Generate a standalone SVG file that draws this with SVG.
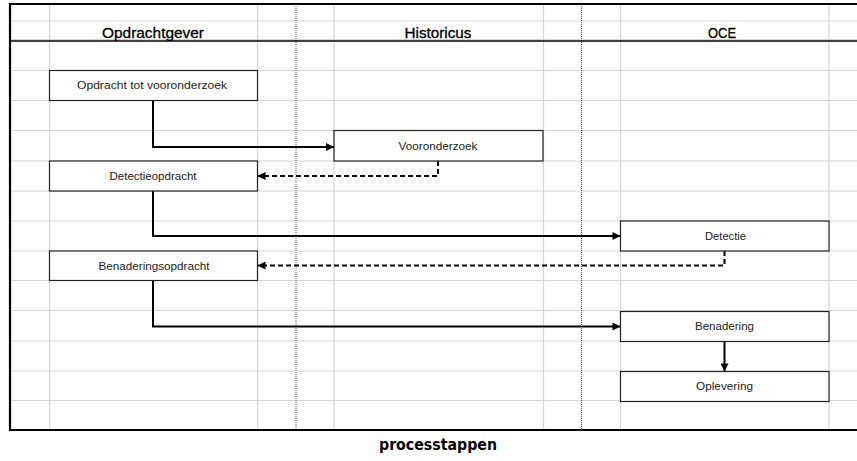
<svg xmlns="http://www.w3.org/2000/svg" width="857" height="461" viewBox="0 0 857 461">
<defs>
<style>
.grid{stroke:#d4d4d4;stroke-width:1.2;fill:none}
.dot{stroke:#555;stroke-width:1;stroke-dasharray:1 1;fill:none}
.frame{stroke:#000;fill:none}
.box rect{fill:#fff;stroke:#222;stroke-width:1.2}
.box text{font-family:"Liberation Sans",Arial,sans-serif;font-size:10.5px;fill:#222;text-anchor:middle}
.hdr{font-family:"Liberation Sans",Arial,sans-serif;font-size:14.5px;fill:#000;text-anchor:middle;stroke:#000;stroke-width:0.3}
.solid{stroke:#000;stroke-width:2;fill:none;marker-end:url(#arr)}
.dash{stroke:#000;stroke-width:2;fill:none;stroke-dasharray:5 3;marker-end:url(#arr)}
.cap{font-family:"DejaVu Sans","Liberation Sans",sans-serif;font-size:15px;font-weight:bold;fill:#000;text-anchor:middle}
</style>
<marker id="arr" viewBox="0 0 10 10" refX="10" refY="5" markerWidth="9" markerHeight="8" markerUnits="userSpaceOnUse" orient="auto">
<path d="M0,0 L10,5 L0,10 z" fill="#000"/>
</marker>
</defs>
<rect x="0" y="0" width="857" height="461" fill="#fff"/>
<g id="grid">
<path class="grid" d="M10 21H857M10 39.5H857M10 70.5H857M10 100.5H857M10 130.5H857M10 161H857M10 191H857M10 221H857M10 251H857M10 280.5H857M10 310.5H857M10 341H857M10 371H857M10 400.5H857"/>
<path class="grid" d="M49.5 4V430M257.5 4V430M334 4V430M543.5 4V430M620.5 4V430M829 4V430"/>
<path class="dot" d="M296 4V430M581.5 4V430"/>
</g>
<g id="frame">
<path class="frame" stroke-width="2.2" d="M857 4H10V430H857"/>
<path class="frame" stroke-width="1.6" d="M10 41H857"/>
</g>
<g id="headers">
<text class="hdr" x="153" y="37.5" textLength="102" lengthAdjust="spacingAndGlyphs">Opdrachtgever</text>
<text class="hdr" x="438" y="37.5" textLength="67" lengthAdjust="spacingAndGlyphs">Historicus</text>
<text class="hdr" x="722" y="37.5" textLength="28" lengthAdjust="spacingAndGlyphs">OCE</text>
</g>
<g id="connectors">
<path class="solid" d="M153 100.5V147H334"/>
<path class="dash" d="M438 161V176H257.5"/>
<path class="solid" d="M153 191V236H620.5"/>
<path class="dash" d="M724.5 251V265.5H257.5"/>
<path class="solid" d="M153 280.5V326.5H620.5"/>
<path class="solid" d="M724.5 341.5V371.5"/>
</g>
<g id="n1" class="box"><rect x="49.5" y="70.5" width="208" height="30"/><text x="152" y="89" textLength="150" lengthAdjust="spacingAndGlyphs">Opdracht tot vooronderzoek</text></g>
<g id="n2" class="box"><rect x="334" y="130.5" width="209" height="30.5"/><text x="438" y="150" textLength="79" lengthAdjust="spacingAndGlyphs">Vooronderzoek</text></g>
<g id="n3" class="box"><rect x="49.5" y="161" width="208" height="30"/><text x="153" y="180" textLength="87" lengthAdjust="spacingAndGlyphs">Detectieopdracht</text></g>
<g id="n4" class="box"><rect x="620.5" y="221" width="208.5" height="30"/><text x="725.5" y="239.5" textLength="41" lengthAdjust="spacingAndGlyphs">Detectie</text></g>
<g id="n5" class="box"><rect x="49.5" y="251" width="208" height="29.5"/><text x="154" y="269.5" textLength="111" lengthAdjust="spacingAndGlyphs">Benaderingsopdracht</text></g>
<g id="n6" class="box"><rect x="620.5" y="311.5" width="208.5" height="30"/><text x="724.5" y="330" textLength="59" lengthAdjust="spacingAndGlyphs">Benadering</text></g>
<g id="n7" class="box"><rect x="620.5" y="371.5" width="208.5" height="30"/><text x="724.5" y="390" textLength="57" lengthAdjust="spacingAndGlyphs">Oplevering</text></g>
<text class="cap" x="438" y="450" textLength="118" lengthAdjust="spacingAndGlyphs">processtappen</text>
</svg>
